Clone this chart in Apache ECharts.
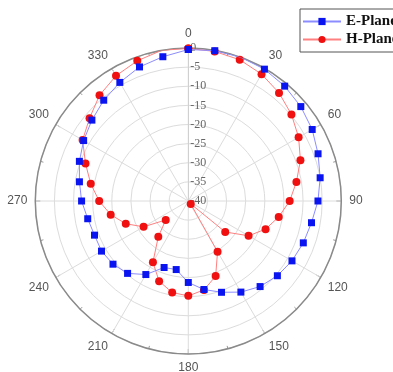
<!DOCTYPE html>
<html>
<head>
<meta charset="utf-8">
<script src="https://cdn.jsdelivr.net/npm/echarts@6/dist/echarts.min.js"></script>
<style>
  html, body { margin: 0; padding: 0; background: #fff; }
  #chart { width: 393px; height: 372px; }
</style>
</head>
<body>
<div id="chart"></div>
<script>
// Measurement angles in degrees (0 at top, clockwise)
const angles = [0, 10, 20, 30, 40, 50, 60, 70, 80, 90, 100, 110, 120, 130, 140, 150, 160, 170,
                180, 190, 200, 210, 220, 230, 240, 250, 260, 270, 280, 290, 300, 310, 320, 330, 340, 350];

// Normalized gain in dB
const ePlane = [-0.4, -0.1, 0, -0.2, -0.8, -1.6, -2.6, -3.9, -5.0, -6.1, -7.3, -8.0, -8.7, -9.6, -10.8, -12.5, -14.6, -16.5,
                -18.7, -21.8, -21.5, -17.8, -15.3, -14.3, -13.8, -13.9, -13.3, -12.1, -11.1, -9.7, -8.4, -7.1, -5.6, -4.2, -2.7, -1.7];
const hPlane = [-0.1, -0.3, -0.7, -1.7, -3.1, -4.8, -6.7, -8.8, -11.3, -13.5, -16.0, -18.5, -21.8, -27.4, -39.0, -24.7, -19.1, -16.4,
                -15.2, -15.7, -17.7, -21.5, -27.8, -32.3, -26.5, -22.6, -19.4, -16.7, -14.1, -11.4, -8.1, -6.3, -3.9, -2.2, -1.0, 0];

const radiusMin = -40, radiusMax = 0, radiusStep = 5;
const angleStep = 30;

// Closed loop: repeat the first sample at 360 degrees
function toPolar(values) {
  const pts = values.map((v, i) => [v, angles[i]]);
  pts.push([values[0], 360]);
  return pts;
}

const chart = echarts.init(document.getElementById('chart'), null, { renderer: 'canvas' });
chart.setOption({
  backgroundColor: '#ffffff',
  animation: false,
  legend: {
    orient: 'vertical',
    left: 300,
    top: 9,
    padding: [5, 12, 5, 2],
    itemGap: 3,
    itemWidth: 38,
    itemHeight: 9,
    borderColor: '#555',
    borderWidth: 1,
    textStyle: { fontFamily: 'Liberation Serif', fontWeight: 'bold', fontSize: 15, color: '#111' },
    data: ['E-Plane', 'H-Plane']
  },
  polar: { center: [188.3, 201], radius: 153 },
  angleAxis: {
    type: 'value',
    min: 0,
    max: 360,
    interval: angleStep,
    startAngle: 90,
    clockwise: true,
    axisLine: { lineStyle: { color: '#8a8a8a', width: 1.5 } },
    axisTick: { show: true, inside: true, length: 5, lineStyle: { color: '#8a8a8a' } },
    minorTick: { show: true, splitNumber: 2, length: 3, lineStyle: { color: '#999' } },
    axisLabel: { margin: 8, fontFamily: 'Liberation Sans', fontSize: 12, color: '#555' },
    splitLine: { show: true, lineStyle: { color: '#dcdcdc', width: 1 } }
  },
  radiusAxis: {
    type: 'value',
    min: radiusMin,
    max: radiusMax,
    interval: radiusStep,
    axisLine: { show: true, lineStyle: { color: '#d0d0d0' } },
    axisTick: { show: false },
    axisLabel: {
      fontFamily: 'Liberation Serif', fontSize: 12, color: '#666',
      margin: -2, align: 'left', padding: [0, 0, 4, 0]
    },
    splitLine: { show: true, lineStyle: { color: '#dcdcdc', width: 1 } }
  },
  series: [
    {
      name: 'E-Plane',
      type: 'line',
      coordinateSystem: 'polar',
      data: toPolar(ePlane),
      symbol: 'rect',
      symbolSize: 7,
      itemStyle: { color: '#0a14f0' },
      lineStyle: { color: '#8c8cff', width: 1 },
      z: 3
    },
    {
      name: 'H-Plane',
      type: 'line',
      coordinateSystem: 'polar',
      data: toPolar(hPlane),
      symbol: 'circle',
      symbolSize: 8,
      itemStyle: { color: '#f01010' },
      lineStyle: { color: '#ff8080', width: 1 },
      z: 2
    }
  ]
});
</script>
</body>
</html>
